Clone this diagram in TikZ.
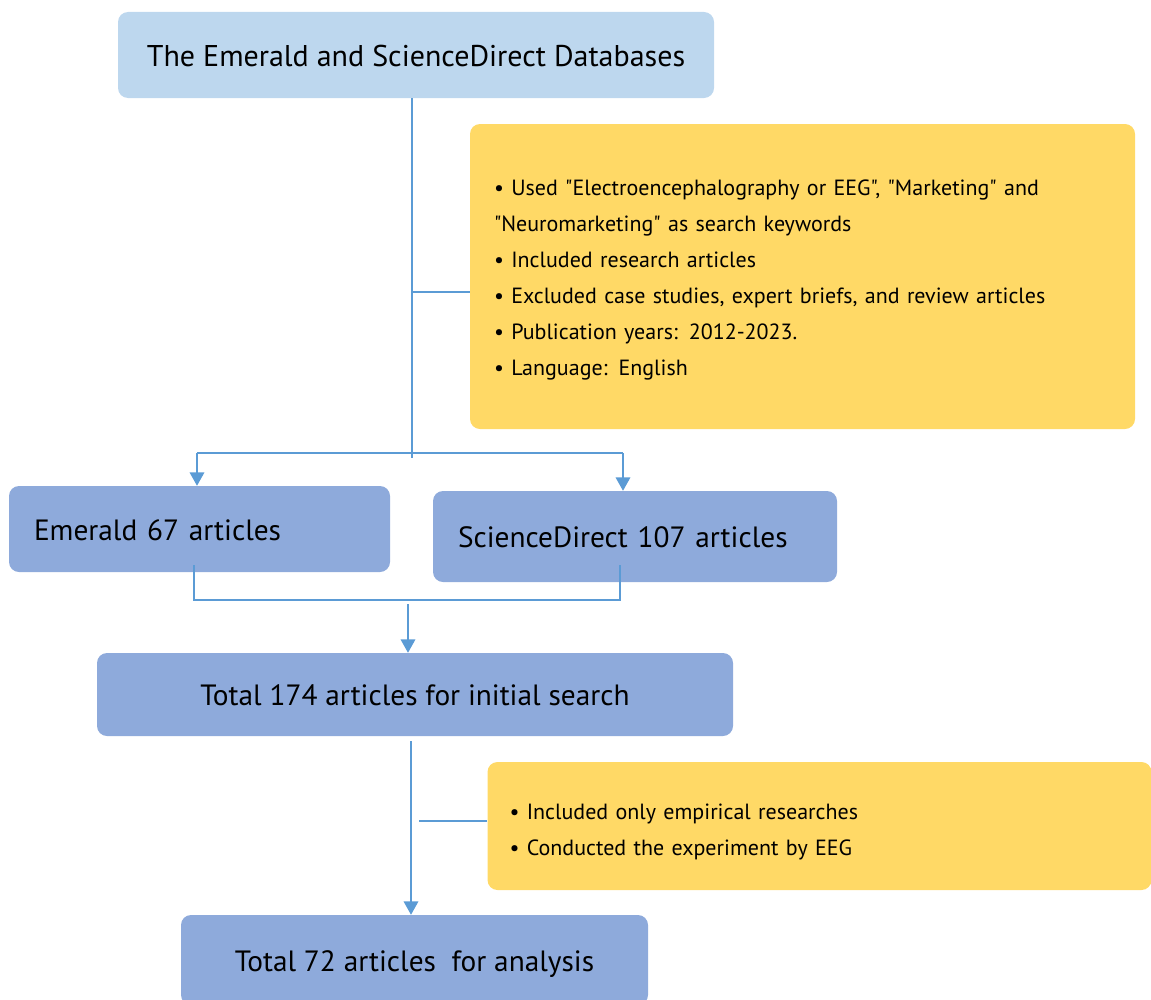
\documentclass[tikz,border=0pt]{standalone}
\usepackage{fontspec}
\setmainfont{PT Sans}[Ligatures=TeXOff]
\usetikzlibrary{arrows.meta,calc}
\definecolor{topblue}{HTML}{BDD7EE}
\definecolor{midblue}{HTML}{8EAADB}
\definecolor{noteyel}{HTML}{FFD966}
\definecolor{linkblue}{HTML}{5B9BD5}
\tikzset{
  box/.style={rectangle, rounded corners=7.5pt, draw=none, inner sep=0pt},
  link/.style={draw=linkblue, line width=0.9pt},
  arr/.style={link, -{Triangle[width=11pt,length=10pt]}},
  big/.style={font=\fontsize{22}{26}\selectfont, text height=19pt, text depth=2pt},
  note/.style={font=\fontsize{16.5}{27}\selectfont},
}
\begin{document}
\begin{tikzpicture}[x=0.75pt,y=-0.75pt]
\useasboundingbox (0,0) rectangle (1151,999);
% boxes
\node[box, fill=topblue, big, font=\fontsize{22.5}{26}\selectfont, minimum width=596*0.75pt, minimum height=86*0.75pt] (db) at (416,55) {The Emerald and ScienceDirect Databases};
\node[box, fill=noteyel, note, align=left, inner xsep=18pt, text width=617*0.75pt, minimum height=305*0.75pt] (crit) at (802.5,276.5)
 {\rule{0pt}{16.5pt}• Used "Electroencephalography or EEG", "Marketing" and\\
  "Neuromarketing" as search keywords\\
  • Included research articles\\
  • Excluded case studies, expert briefs, and review articles\\
  • Publication years: 2012-2023.\\
  • Language: English};
\node[box, fill=midblue, big, align=left, inner xsep=18.75pt, text width=331*0.75pt, minimum height=86*0.75pt] (em) at (199.5,529) {Emerald 67 articles};
\node[box, fill=midblue, big, align=left, inner xsep=18.75pt, text width=354*0.75pt, minimum height=91*0.75pt] (sd) at (635,536.5) {ScienceDirect 107 articles};
\node[box, fill=midblue, big, minimum width=636*0.75pt, minimum height=83*0.75pt] (init) at (415,694.5) {Total 174 articles for initial search};
\node[box, fill=noteyel, note, align=left, inner xsep=16.5pt, text width=620*0.75pt, minimum height=128*0.75pt] (crit2) at (819.5,826)
 {\rule{0pt}{21pt}• Included only empirical researches\\
  • Conducted the experiment by EEG};
\node[box, fill=midblue, big, minimum width=467*0.75pt, minimum height=90*0.75pt] (final) at (414.5,960) {Total 72 articles~~for analysis};
% coordinates
\coordinate (t0) at (412,98);
\coordinate (t1) at (412,458);
\coordinate (tc) at (412,292);
\coordinate (hl) at (197,453);
\coordinate (hr) at (623,453);
\coordinate (e0) at (194,565);
\coordinate (e1) at (194,600);
\coordinate (s0) at (620,565);
\coordinate (s1) at (620,600);
\coordinate (m0) at (408,604);
\coordinate (i0) at (411,741);
\coordinate (ic) at (419,821);
% connectors
\draw[link] (t0) -- (t1);
\draw[link] (tc) -- (tc -| crit.west);
\draw[link] (hl) -- (hr);
\draw[arr] (hl) -- (hl |- em.north);
\draw[arr] (hr) -- (hr |- sd.north);
\draw[link] (e0) -- (e1) -- (s1) -- (s0);
\draw[arr] (m0) -- (m0 |- init.north);
\draw[arr] (i0) -- (i0 |- final.north);
\draw[link] (ic) -- (ic -| crit2.west);
\end{tikzpicture}
\end{document}
